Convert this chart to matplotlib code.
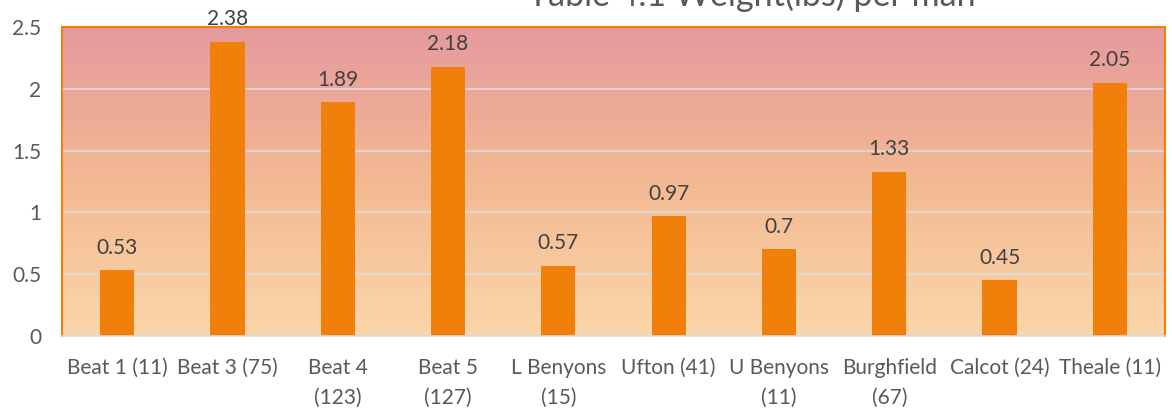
import numpy as np
from matplotlib import pyplot as plt
from matplotlib.colors import LinearSegmentedColormap

categories = ["Beat 1 (11)", "Beat 3 (75)", "Beat 4\n(123)", "Beat 5\n(127)",
              "L Benyons\n(15)", "Ufton (41)", "U Benyons\n(11)", "Burghfield\n(67)",
              "Calcot (24)", "Theale (11)"]
weights = [0.53, 2.38, 1.89, 2.18, 0.57, 0.97, 0.7, 1.33, 0.45, 2.05]
value_labels = ["0.53", "2.38", "1.89", "2.18", "0.57", "0.97", "0.7", "1.33", "0.45", "2.05"]
y_ticks = [0, 0.5, 1, 1.5, 2, 2.5]
y_tick_labels = ["0", "0.5", "1", "1.5", "2", "2.5"]
title = "Table 4.1 Weight(lbs) per man"


def main():
    plt.rcParams['font.family'] = ['Lato', 'DejaVu Sans']
    fig = plt.figure(figsize=(11.72, 4.12), dpi=100)
    ax = fig.add_axes([62 / 1172, 76 / 412, 1103 / 1172, 309 / 412])

    n = len(categories)
    x = np.arange(n)
    ax.set_xlim(-0.5, n - 0.5)
    ax.set_ylim(0, 2.5)

    # vertical gradient background
    cmap = LinearSegmentedColormap.from_list(
        "bg", ["#fbd6aa", "#f3b992", "#e69a9e"])
    grad = np.linspace(0, 1, 256).reshape(-1, 1)
    ax.imshow(grad, cmap=cmap, aspect='auto', origin='lower',
              extent=(-0.5, n - 0.5, 0, 2.5), zorder=0)

    for y in y_ticks[1:-1]:
        ax.axhline(y, color='#dcdcdc', lw=1.2, zorder=1)

    ax.bar(x, weights, width=0.31, color='#f0800a', zorder=2)
    for xi, v, lab in zip(x, weights, value_labels):
        ax.annotate(lab, (xi, v), xytext=(0, 9), textcoords='offset points',
                    ha='center', va='bottom', fontsize=15, color='#404040')

    ax.set_xticks(x)
    ax.set_xticklabels(categories, fontsize=15, color='#595959', linespacing=1.6)
    ax.set_yticks(y_ticks)
    ax.set_yticklabels(y_tick_labels, fontsize=15, color='#595959')
    ax.tick_params(axis='both', length=0)
    ax.tick_params(axis='x', pad=16)
    ax.tick_params(axis='y', pad=15)

    for side in ['top', 'left', 'right']:
        ax.spines[side].set_color('#f0800a')
        ax.spines[side].set_linewidth(1.5)
    ax.spines['bottom'].set_color('#d9d9d9')
    ax.spines['bottom'].set_linewidth(1.2)

    # title sits partly above the top edge, as in the reference
    fig.text(752 / 1172, 1 - 6 / 412, title, ha='center', va='baseline',
             fontsize=24.5, color='#595959')

    plt.savefig("out.png", dpi=100)


if __name__ == "__main__":
    main()
